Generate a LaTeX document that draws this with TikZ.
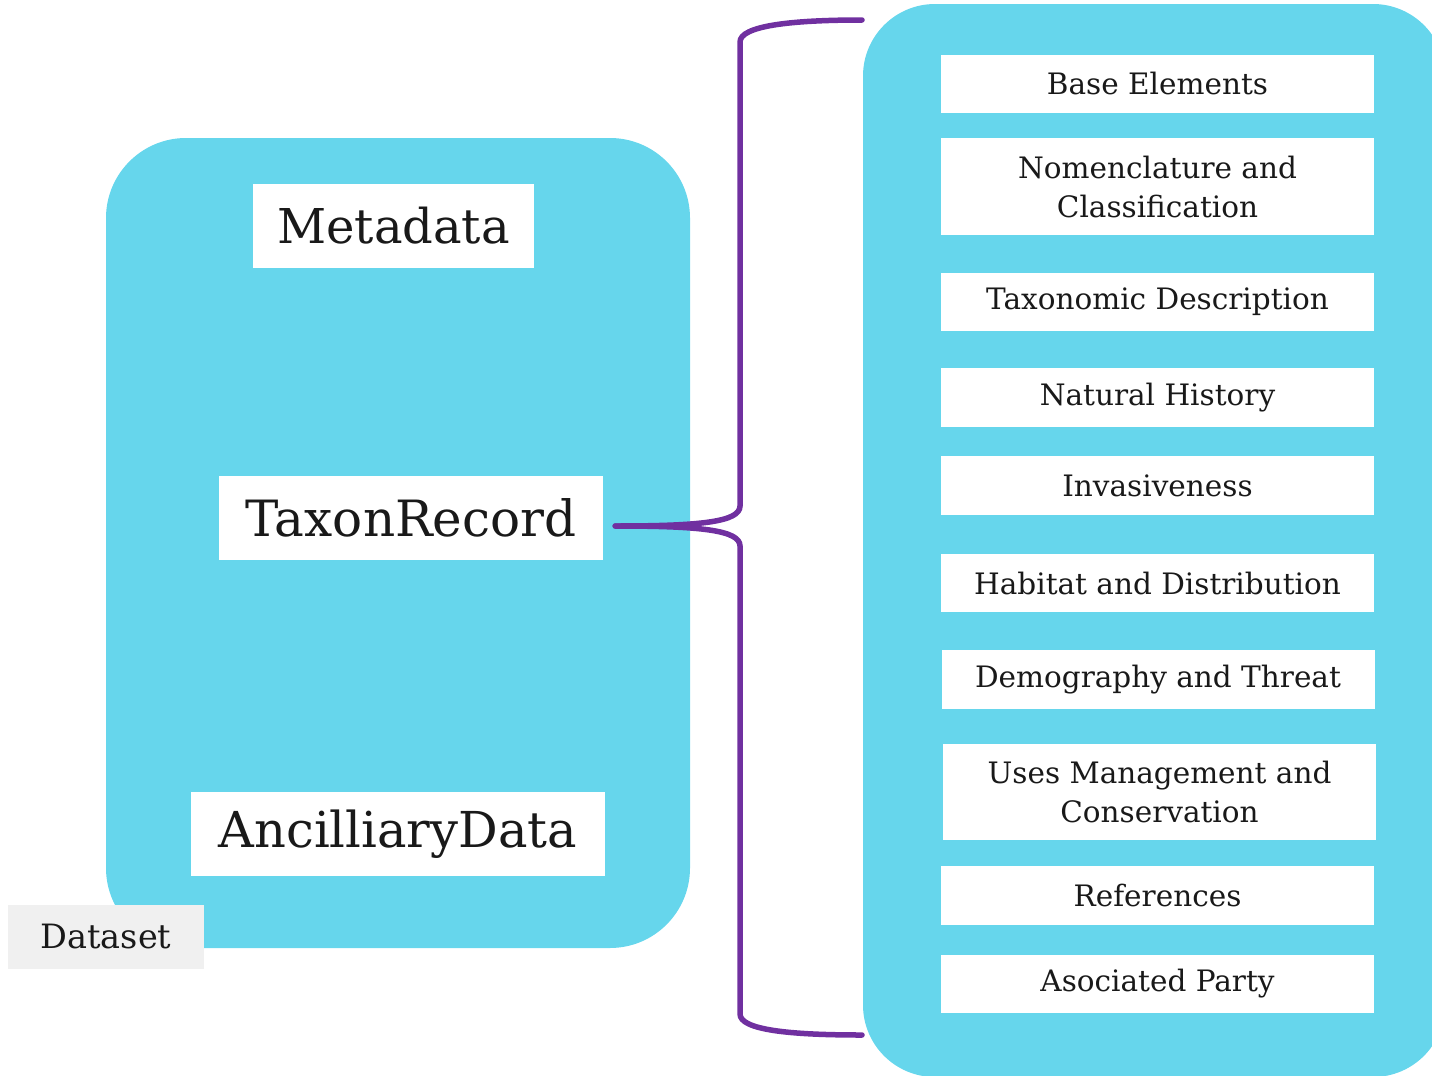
\documentclass[tikz,border=0pt]{standalone}
\usepackage{fontspec}
\setmainfont{DejaVu Serif}
\definecolor{panel}{RGB}{102,214,236}
\definecolor{bracec}{RGB}{112,48,160}
\definecolor{tagbg}{RGB}{240,240,240}
\begin{document}
\begin{tikzpicture}[x=1pt,y=-1pt,
  panelbox/.style={fill=panel,draw=none},
  itembox/.style={fill=white,draw=none,inner sep=0pt,minimum width=433pt,align=center,text=black!90,font=\fontsize{29.5}{39}\selectfont},
  bigbox/.style={fill=white,draw=none,inner sep=0pt,minimum height=84pt,text=black!90,font=\fontsize{50}{60}\selectfont},
  tagbox/.style={fill=tagbg,draw=none,inner sep=0pt,minimum width=196pt,minimum height=64pt,text=black!90,font=\fontsize{33.5}{38}\selectfont},
  bracel/.style={draw=bracec,line width=5.5pt,line cap=round}]
\useasboundingbox (0,0) rectangle (1432,1076);
\begin{scope}
\clip (0,0) rectangle (1432,1076);
% left panel
\path[panelbox,rounded corners=80pt] (106,138) rectangle (690,948);
% right panel
\path[panelbox,rounded corners=72pt] (863,4) rectangle (1445,1077);
\end{scope}
% left nodes
\node[bigbox,minimum width=281pt,font=\fontsize{48}{58}\selectfont] (meta) at (393.5,226) {Metadata};
\node[bigbox,minimum width=384pt] (taxon) at (411,518) {TaxonRecord};
\node[bigbox,minimum width=414pt,font=\fontsize{49.5}{60}\selectfont] (anc) at (398,834) {AncilliaryData};
\node[tagbox] (ds) at (106,937) {Dataset};
% right items
\node[itembox,minimum height=58pt] (i1) at (1157.5,84) {Base Elements};
\node[itembox,minimum height=97pt] (i2) at (1157.5,186.5) {Nomenclature and\\Classification};
\node[itembox,minimum height=58pt] (i3) at (1157.5,302) {Taxonomic Description};
\node[itembox,minimum height=59pt] (i4) at (1157.5,397.5) {Natural History};
\node[itembox,minimum height=59pt] (i5) at (1157.5,485.5) {Invasiveness};
\node[itembox,minimum height=58pt] (i6) at (1157.5,583) {Habitat and Distribution};
\node[itembox,minimum height=59pt] (i7) at (1158,679.5) {Demography and Threat};
\node[itembox,minimum height=96pt] (i8) at (1159.5,792) {Uses Management and\\Conservation};
\node[itembox,minimum height=59pt] (i9) at (1157.5,895.5) {References};
\node[itembox,minimum height=58pt] (i10) at (1157.5,984) {Asociated Party};
% brace
\coordinate (tip) at ([xshift=12pt,yshift=-8pt]taxon.east);
\coordinate (btop) at (862,20);
\coordinate (bbot) at (862,1035);
\draw[bracel] (tip) .. controls (700,526) and (740,522) .. (740,506)
  -- (740,42) .. controls (740,26) and (790,20) .. (btop);
\draw[bracel] (tip) .. controls (700,526) and (740,530) .. (740,546)
  -- (740,1014) .. controls (740,1030) and (790,1035) .. (bbot);
\end{tikzpicture}
\end{document}
